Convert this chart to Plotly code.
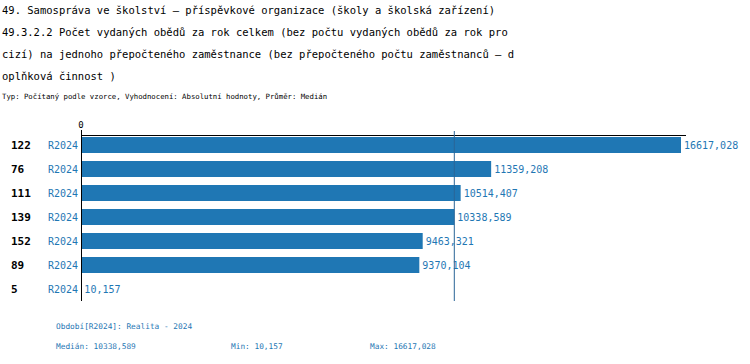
import plotly.graph_objects as go

ids = ["122", "76", "111", "139", "152", "89", "5"]
periods = ["R2024", "R2024", "R2024", "R2024", "R2024", "R2024", "R2024"]
values = [16617.028, 11359.208, 10514.407, 10338.589, 9463.321, 9370.104, 10.157]
median_value = 10338.589
min_value = 10.157
max_value = 16617.028

title_lines = [
    "49. Samospráva ve školství – příspěvkové organizace (školy a školská zařízení)",
    "49.3.2.2 Počet vydaných obědů za rok celkem (bez počtu vydaných obědů za rok pro",
    "cizí) na jednoho přepočteného zaměstnance (bez přepočteného počtu zaměstnanců – d",
    "oplňková činnost )",
]
subtitle = "Typ: Počítaný podle vzorce, Vyhodnocení: Absolutní hodnoty, Průměr: Medián"
period_note = "Období[R2024]: Realita - 2024"

def fmt(v):
    return f"{v:.3f}".replace(".", ",")

BLUE = "#1f77b4"
MONO = "DejaVu Sans Mono"

W, H = 750, 364
L, R, T, B = 81, 64, 136, 63
PW = W - L - R
PH = H - T - B

def px(x):
    return (x - L) / PW

def py(y):
    return (H - B - y) / PH

xmax = max_value * PW / 600.0

fig = go.Figure()
fig.add_trace(go.Bar(
    y=list(range(len(values))),
    x=values,
    orientation="h",
    marker=dict(color=BLUE, line=dict(width=0)),
    width=0.67,
    text=[fmt(v) for v in values],
    textposition="outside",
    textfont=dict(family=MONO, size=10, color=BLUE),
    constraintext="none",
    cliponaxis=False,
    hoverinfo="skip",
))

annotations = []
tl_y = [10, 32, 54, 76]
for line, yy in zip(title_lines, tl_y):
    annotations.append(dict(text=line, xref="paper", yref="paper", x=px(0), y=py(yy),
                            xanchor="left", yanchor="middle", showarrow=False,
                            font=dict(family=MONO, size=10.5, color="black")))
annotations.append(dict(text=subtitle, xref="paper", yref="paper", x=px(0), y=py(96),
                        xanchor="left", yanchor="middle", showarrow=False,
                        font=dict(family=MONO, size=7.3, color="black")))
for i, (cid, per) in enumerate(zip(ids, periods)):
    annotations.append(dict(text="<b>" + cid + "</b>", xref="paper", yref="y", x=px(9), y=i,
                            xanchor="left", yanchor="middle", showarrow=False,
                            font=dict(family=MONO, size=11, color="black")))
    annotations.append(dict(text=per, xref="paper", yref="y", x=px(46), y=i,
                            xanchor="left", yanchor="middle", showarrow=False,
                            font=dict(family=MONO, size=10, color=BLUE)))
bottom_font = dict(family=MONO, size=7.8, color=BLUE)
annotations.append(dict(text=period_note, xref="paper", yref="paper", x=px(54), y=py(326),
                        xanchor="left", yanchor="middle", showarrow=False, font=bottom_font))
annotations.append(dict(text="Medián: " + fmt(median_value), xref="paper", yref="paper", x=px(54), y=py(346),
                        xanchor="left", yanchor="middle", showarrow=False, font=bottom_font))
annotations.append(dict(text="Min: " + fmt(min_value), xref="paper", yref="paper", x=px(229), y=py(346),
                        xanchor="left", yanchor="middle", showarrow=False, font=bottom_font))
annotations.append(dict(text="Max: " + fmt(max_value), xref="paper", yref="paper", x=px(368), y=py(346),
                        xanchor="left", yanchor="middle", showarrow=False, font=bottom_font))

shapes = [
    dict(type="line", xref="x", yref="paper", x0=median_value, x1=median_value,
         y0=0, y1=py(131), line=dict(color="#2a6496", width=1)),
    dict(type="line", xref="x", yref="paper", x0=0, x1=0,
         y0=0, y1=py(130), line=dict(color="black", width=2)),
]

fig.update_layout(
    width=W, height=H,
    margin=dict(l=L, r=R, t=T, b=B, pad=0),
    paper_bgcolor="white", plot_bgcolor="white",
    showlegend=False,
    annotations=annotations,
    shapes=shapes,
    xaxis=dict(range=[0, xmax], side="top", showgrid=False, zeroline=False,
               showline=True, linecolor="black", linewidth=1,
               tickvals=[0], ticktext=["0"], ticks="outside", ticklen=3, tickcolor="white",
               tickfont=dict(family=MONO, size=9, color="black"), fixedrange=True),
    yaxis=dict(range=[6.5, -0.375], showgrid=False, zeroline=False, showline=False,
               showticklabels=False, ticks="", fixedrange=True),
    bargap=0.33,
)

fig.write_html("out.html", config={"displayModeBar": False, "staticPlot": True},
               post_script="document.body.style.margin='0';document.body.style.overflow='hidden';")
